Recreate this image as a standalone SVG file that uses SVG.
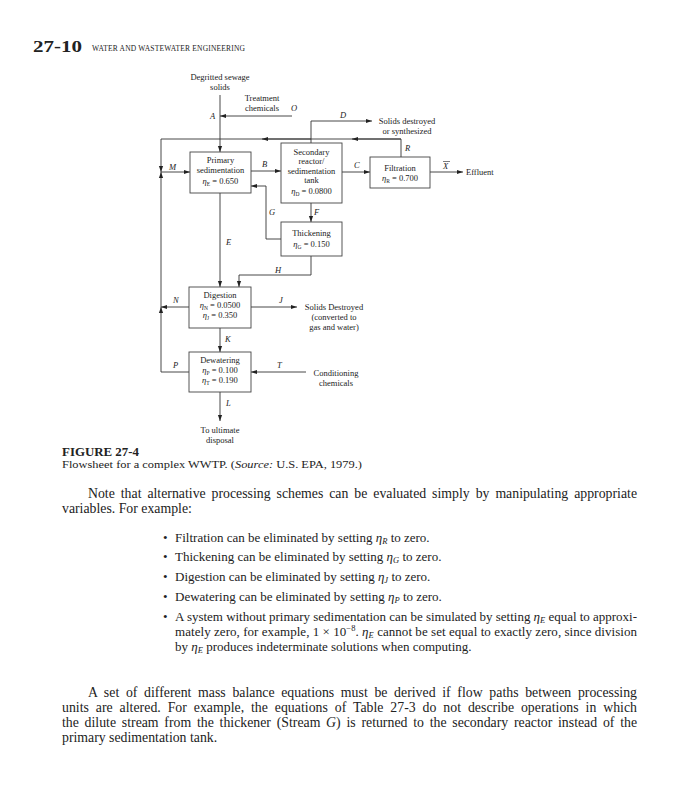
<svg xmlns="http://www.w3.org/2000/svg" width="689" height="800" viewBox="0 0 689 800">
<style>
.t{font-family:"Liberation Serif",serif;fill:#222}
.d{font-size:8.5px;text-anchor:middle}
.l{font-size:8.5px;font-style:italic}
.b{font-size:13.8px}
.c{font-size:13px}
.box{fill:#fff;stroke:#444;stroke-width:0.9}
.ln{fill:none;stroke:#333;stroke-width:0.9}
</style>
<defs>
<marker id="ah" viewBox="0 0 10 10" refX="10" refY="5" markerWidth="6" markerHeight="6" markerUnits="userSpaceOnUse" orient="auto"><path d="M0,1.5 L10,5 L0,8.5 z" fill="#222"/></marker>
</defs>
<rect width="689" height="800" fill="#fff"/>
<text class="t" x="33" y="52" font-size="17" font-weight="bold" textLength="49" lengthAdjust="spacingAndGlyphs">27-10</text>
<text class="t" x="92" y="51" font-size="7.5" textLength="153">WATER AND WASTEWATER ENGINEERING</text>

<g id="connectors">
<path class="ln" d="M220,95 V152" marker-end="url(#ah)"/>
<path class="ln" d="M292,116 H220" marker-end="url(#ah)"/>
<path class="ln" d="M311,143 V121 H372" marker-end="url(#ah)"/>
<path class="ln" d="M401,157 V139 H161 V172" marker-end="url(#ah)"/>
<path class="ln" d="M401,139 H352" marker-end="url(#ah)"/>
<path class="ln" d="M311,139 H262" marker-end="url(#ah)"/>
<path class="ln" d="M161,172 H190" marker-end="url(#ah)"/>
<path class="ln" d="M251,171 H281" marker-end="url(#ah)"/>
<path class="ln" d="M342,172 H370" marker-end="url(#ah)"/>
<path class="ln" d="M430,172 H463" marker-end="url(#ah)"/>
<path class="ln" d="M311,203 V222" marker-end="url(#ah)"/>
<path class="ln" d="M281,239 H266 V186 H251" marker-end="url(#ah)"/>
<path class="ln" d="M220,193 V287" marker-end="url(#ah)"/>
<path class="ln" d="M311,256 V275 H239 V287" marker-end="url(#ah)"/>
<path class="ln" d="M189,307 H161" marker-end="url(#ah)"/>
<path class="ln" d="M161,372 V307" marker-end="url(#ah)"/>
<path class="ln" d="M161,307 V172" marker-end="url(#ah)"/>
<path class="ln" d="M251,307 H297" marker-end="url(#ah)"/>
<path class="ln" d="M220,328 V352" marker-end="url(#ah)"/>
<path class="ln" d="M189,372 H161"/>
<path class="ln" d="M306,372 H251" marker-end="url(#ah)"/>
<path class="ln" d="M220,392 V421" marker-end="url(#ah)"/>
</g>

<g id="labels">
<text class="t l" x="210" y="119">A</text>
<text class="t l" x="291" y="111">O</text>
<text class="t l" x="340" y="118">D</text>
<text class="t l" x="405" y="151">R</text>
<text class="t l" x="169" y="170">M</text>
<text class="t l" x="262" y="167">B</text>
<text class="t l" x="354" y="168">C</text>
<text class="t l" x="443" y="169">X</text>
<path d="M443,161.5 H450" stroke="#222" stroke-width="0.6"/>
<text class="t l" x="314" y="215">F</text>
<text class="t l" x="269" y="215">G</text>
<text class="t l" x="226" y="245">E</text>
<text class="t l" x="275" y="273">H</text>
<text class="t l" x="173" y="303">N</text>
<text class="t l" x="279" y="303">J</text>
<text class="t l" x="225" y="342">K</text>
<text class="t l" x="173" y="368">P</text>
<text class="t l" x="277" y="368">T</text>
<text class="t l" x="226" y="406">L</text>
<text class="t d" x="220" y="80">Degritted sewage</text>
<text class="t d" x="220" y="90">solids</text>
<text class="t d" x="262" y="101">Treatment</text>
<text class="t d" x="262" y="111">chemicals</text>
<text class="t d" x="407" y="124">Solids destroyed</text>
<text class="t d" x="407" y="134">or synthesized</text>
<text class="t" x="466" y="175" font-size="8.5">Effluent</text>
<text class="t d" x="334" y="310">Solids Destroyed</text>
<text class="t d" x="334" y="320">(converted to</text>
<text class="t d" x="334" y="330">gas and water)</text>
<text class="t d" x="336" y="376">Conditioning</text>
<text class="t d" x="336" y="386">chemicals</text>
<text class="t d" x="220" y="433">To ultimate</text>
<text class="t d" x="220" y="443">disposal</text>
</g>

<g id="primary">
<rect class="box" x="190" y="152" width="61" height="41"/>
<text class="t d" x="220.5" y="163">Primary</text>
<text class="t d" x="220.5" y="173">sedimentation</text>
<text class="t d" x="220.5" y="184"><tspan font-style="italic">η</tspan><tspan font-size="5.5" dy="1.5">E</tspan><tspan dy="-1.5"> = 0.650</tspan></text>
</g>
<g id="secondary">
<rect class="box" x="281" y="143" width="61" height="60"/>
<text class="t d" x="311.5" y="155">Secondary</text>
<text class="t d" x="311.5" y="164">reactor/</text>
<text class="t d" x="311.5" y="174">sedimentation</text>
<text class="t d" x="311.5" y="183">tank</text>
<text class="t d" x="311.5" y="194"><tspan font-style="italic">η</tspan><tspan font-size="5.5" dy="1.5">D</tspan><tspan dy="-1.5"> = 0.0800</tspan></text>
</g>
<g id="filtration">
<rect class="box" x="370" y="157" width="60" height="31"/>
<text class="t d" x="400" y="171">Filtration</text>
<text class="t d" x="400" y="181"><tspan font-style="italic">η</tspan><tspan font-size="5.5" dy="1.5">R</tspan><tspan dy="-1.5"> = 0.700</tspan></text>
</g>
<g id="thickening">
<rect class="box" x="281" y="222" width="61" height="34"/>
<text class="t d" x="311.5" y="236">Thickening</text>
<text class="t d" x="311.5" y="247"><tspan font-style="italic">η</tspan><tspan font-size="5.5" dy="1.5">G</tspan><tspan dy="-1.5"> = 0.150</tspan></text>
</g>
<g id="digestion">
<rect class="box" x="189" y="287" width="62" height="41"/>
<text class="t d" x="220" y="298">Digestion</text>
<text class="t d" x="220" y="308"><tspan font-style="italic">η</tspan><tspan font-size="5.5" dy="1.5">N</tspan><tspan dy="-1.5"> = 0.0500</tspan></text>
<text class="t d" x="220" y="318"><tspan font-style="italic">η</tspan><tspan font-size="5.5" dy="1.5">J</tspan><tspan dy="-1.5"> = 0.350</tspan></text>
</g>
<g id="dewatering">
<rect class="box" x="189" y="352" width="62" height="40"/>
<text class="t d" x="220" y="363">Dewatering</text>
<text class="t d" x="220" y="373"><tspan font-style="italic">η</tspan><tspan font-size="5.5" dy="1.5">P</tspan><tspan dy="-1.5"> = 0.100</tspan></text>
<text class="t d" x="220" y="383"><tspan font-style="italic">η</tspan><tspan font-size="5.5" dy="1.5">T</tspan><tspan dy="-1.5"> = 0.190</tspan></text>
</g>

<g id="caption">
<text class="t" x="62" y="456" font-size="12.5" font-weight="bold" textLength="77" lengthAdjust="spacingAndGlyphs">FIGURE 27-4</text>
<text class="t" x="62" y="468" font-size="10.5" textLength="300" lengthAdjust="spacingAndGlyphs">Flowsheet for a complex WWTP. (<tspan font-style="italic">Source:</tspan> U.S. EPA, 1979.)</text>
</g>

<g id="body">
<text class="t b" x="88" y="498" word-spacing="2.5" textLength="549">Note that alternative processing schemes can be evaluated simply by manipulating appropriate</text>
<text class="t b" x="62" y="513">variables. For example:</text>
<text class="t c" x="163" y="542">•</text>
<text class="t c" x="175" y="542">Filtration can be eliminated by setting <tspan font-style="italic">η</tspan><tspan font-size="8.5" font-style="italic" dy="2">R</tspan><tspan dy="-2"> to zero.</tspan></text>
<text class="t c" x="163" y="561">•</text>
<text class="t c" x="175" y="561">Thickening can be eliminated by setting <tspan font-style="italic">η</tspan><tspan font-size="8.5" font-style="italic" dy="2">G</tspan><tspan dy="-2"> to zero.</tspan></text>
<text class="t c" x="163" y="581">•</text>
<text class="t c" x="175" y="581">Digestion can be eliminated by setting <tspan font-style="italic">η</tspan><tspan font-size="8.5" font-style="italic" dy="2">J</tspan><tspan dy="-2"> to zero.</tspan></text>
<text class="t c" x="163" y="601">•</text>
<text class="t c" x="175" y="601">Dewatering can be eliminated by setting <tspan font-style="italic">η</tspan><tspan font-size="8.5" font-style="italic" dy="2">P</tspan><tspan dy="-2"> to zero.</tspan></text>
<text class="t c" x="163" y="621">•</text>
<text class="t c" x="175" y="621" textLength="462">A system without primary sedimentation can be simulated by setting <tspan font-style="italic">η</tspan><tspan font-size="8.5" font-style="italic" dy="2">E</tspan><tspan dy="-2"> equal to approxi-</tspan></text>
<text class="t c" x="175" y="636" textLength="462">mately zero, for example, 1 × 10<tspan font-size="8.5" dy="-5">−8</tspan><tspan dy="5">. </tspan><tspan font-style="italic">η</tspan><tspan font-size="8.5" font-style="italic" dy="2">E</tspan><tspan dy="-2"> cannot be set equal to exactly zero, since division</tspan></text>
<text class="t c" x="175" y="651">by <tspan font-style="italic">η</tspan><tspan font-size="8.5" font-style="italic" dy="2">E</tspan><tspan dy="-2"> produces indeterminate solutions when computing.</tspan></text>
<text class="t b" x="88" y="697" word-spacing="3.2" textLength="549">A set of different mass balance equations must be derived if flow paths between processing</text>
<text class="t b" x="62" y="712" word-spacing="3.4" textLength="575">units are altered. For example, the equations of Table 27-3 do not describe operations in which</text>
<text class="t b" x="62" y="727" word-spacing="2.3" textLength="575">the dilute stream from the thickener (Stream <tspan font-style="italic">G</tspan>) is returned to the secondary reactor instead of the</text>
<text class="t b" x="62" y="742">primary sedimentation tank.</text>
</g>
</svg>
